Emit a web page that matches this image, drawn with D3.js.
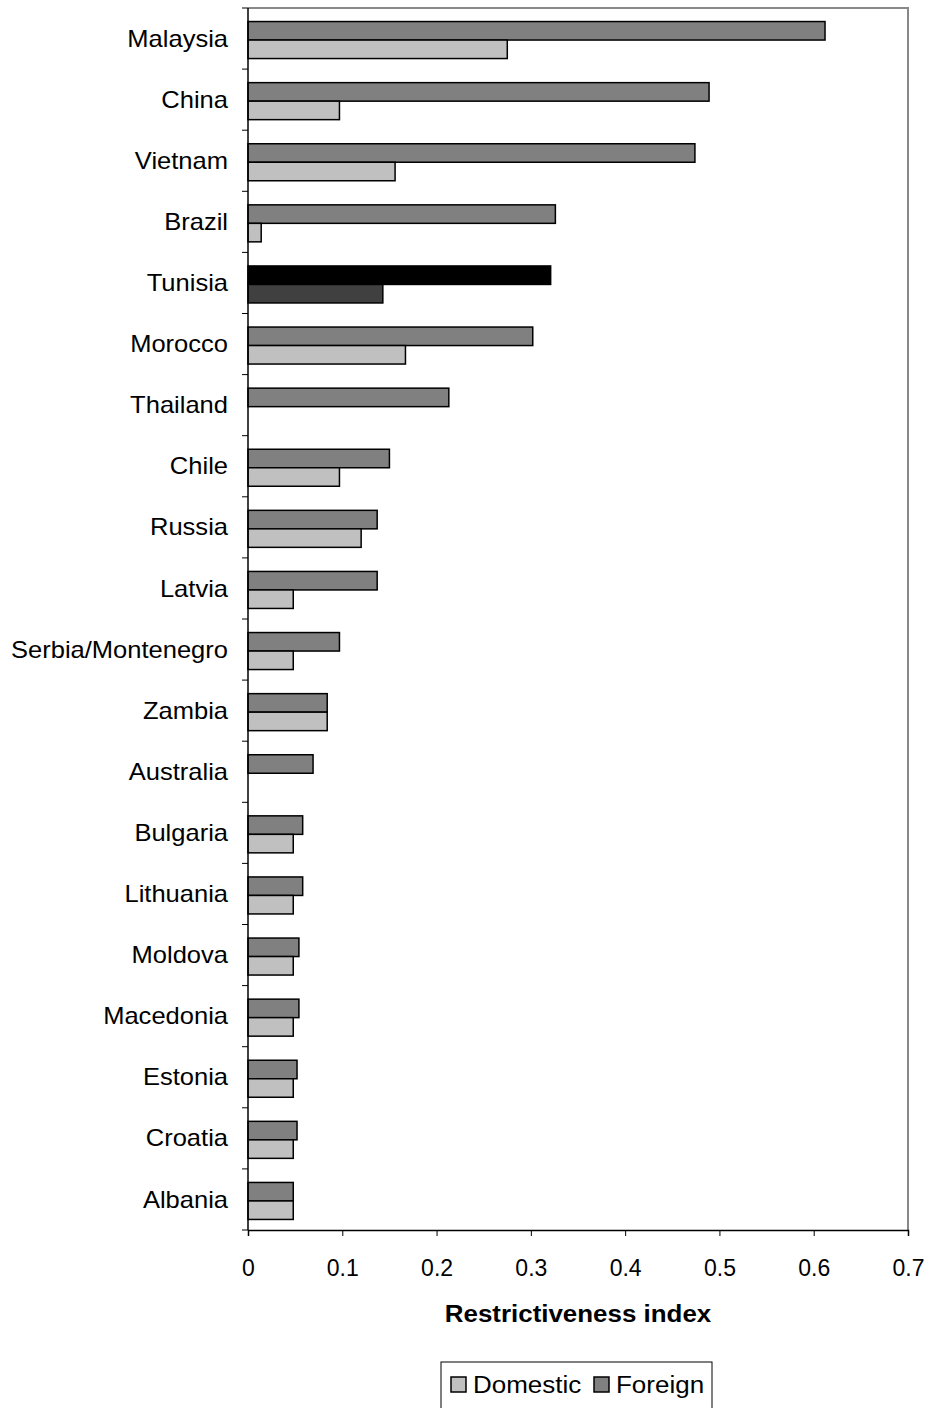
<!DOCTYPE html>
<html><head><meta charset="utf-8">
<script src="https://cdn.jsdelivr.net/npm/d3@7/dist/d3.min.js"></script>
<style>body{margin:0;background:#fff;} text{font-family:"Liberation Sans",Arial,sans-serif;}</style>
</head><body><svg id="c" width="931" height="1408"></svg>
<script>
const categories = ["Malaysia","China","Vietnam","Brazil","Tunisia","Morocco","Thailand","Chile","Russia","Latvia","Serbia/Montenegro","Zambia","Australia","Bulgaria","Lithuania","Moldova","Macedonia","Estonia","Croatia","Albania"];
const foreign = [0.612,0.489,0.474,0.326,0.321,0.302,0.213,0.150,0.137,0.137,0.097,0.084,0.069,0.058,0.058,0.054,0.054,0.052,0.052,0.048];
const domestic = [0.275,0.097,0.156,0.014,0.143,0.167,0,0.097,0.120,0.048,0.048,0.084,0,0.048,0.048,0.048,0.048,0.048,0.048,0.048];
const xTicks = [0,0.1,0.2,0.3,0.4,0.5,0.6,0.7];
const highlight = "Tunisia";

const svg = d3.select("#c");
const L=248,R=908,T=8,B=1230;
const x = d3.scaleLinear().domain([0,0.7]).range([L,R]);
const y = d3.scaleBand().domain(categories).range([T,B]);
const sub = d3.scaleBand().domain(["foreign","domestic"]).range([0,37]);
const off = (y.bandwidth()-37)/2 + 1.5;

// plot border (top/right gray)
svg.append("path").attr("d",`M${L},${T}H${R}V${B}`).attr("fill","none").attr("stroke","#888").attr("stroke-width",2);

const g = svg.append("g");
categories.forEach((c,i)=>{
  const hi = c===highlight;
  [["foreign",foreign[i],hi?"#000":"#808080"],["domestic",domestic[i],hi?"#404040":"#c0c0c0"]].forEach(([k,v,col])=>{
    if(v<=0) return;
    g.append("rect").attr("x",x(0)).attr("y",y(c)+off+sub(k)).attr("width",x(v)-x(0)).attr("height",sub.bandwidth())
     .attr("fill",col).attr("stroke","#000").attr("stroke-width",1.5);
  });
});

// y axis
const ya = svg.append("g");
ya.append("line").attr("x1",L).attr("x2",L).attr("y1",T).attr("y2",B).attr("stroke","#000").attr("stroke-width",1.5);
categories.forEach(c=>{
  ya.append("line").attr("x1",L-6).attr("x2",L).attr("y1",y(c)).attr("y2",y(c)).attr("stroke","#000");
  ya.append("text").attr("transform",`translate(228,${y(c)+y.bandwidth()/2}) scale(1.11,1)`).attr("dy","0.35em").attr("text-anchor","end").attr("font-size",23).text(c);
});
ya.append("line").attr("x1",L-6).attr("x2",L).attr("y1",B).attr("y2",B).attr("stroke","#000");

// x axis
const xa = svg.append("g").attr("transform",`translate(0,${B})`).call(d3.axisBottom(x).tickValues(xTicks).tickFormat(d=>d===0?"0":d3.format(".1f")(d)).tickSize(6).tickPadding(24));
xa.select(".domain").attr("stroke","#000").attr("stroke-width",1.5);
xa.selectAll("text").attr("font-size",23).attr("fill","#000").style("font-family","Liberation Sans, Arial, sans-serif");

svg.append("text").attr("transform",`translate(${(L+R)/2},1322) scale(1.08,1)`).attr("text-anchor","middle").attr("font-size",24).attr("font-weight","bold").text("Restrictiveness index");

// legend
const lg = svg.append("g");
lg.append("rect").attr("x",441).attr("y",1362).attr("width",271).attr("height",50).attr("fill","#fff").attr("stroke","#000").attr("stroke-width",1);
[["Domestic","#c0c0c0",451],["Foreign","#808080",594]].forEach(([t,col,xx])=>{
  lg.append("rect").attr("x",xx).attr("y",1377).attr("width",15).attr("height",15).attr("fill",col).attr("stroke","#000").attr("stroke-width",1.5);
  lg.append("text").attr("transform",`translate(${xx+22},1385) scale(1.13,1)`).attr("dy","0.35em").attr("font-size",23).text(t);
});
</script></body></html>
